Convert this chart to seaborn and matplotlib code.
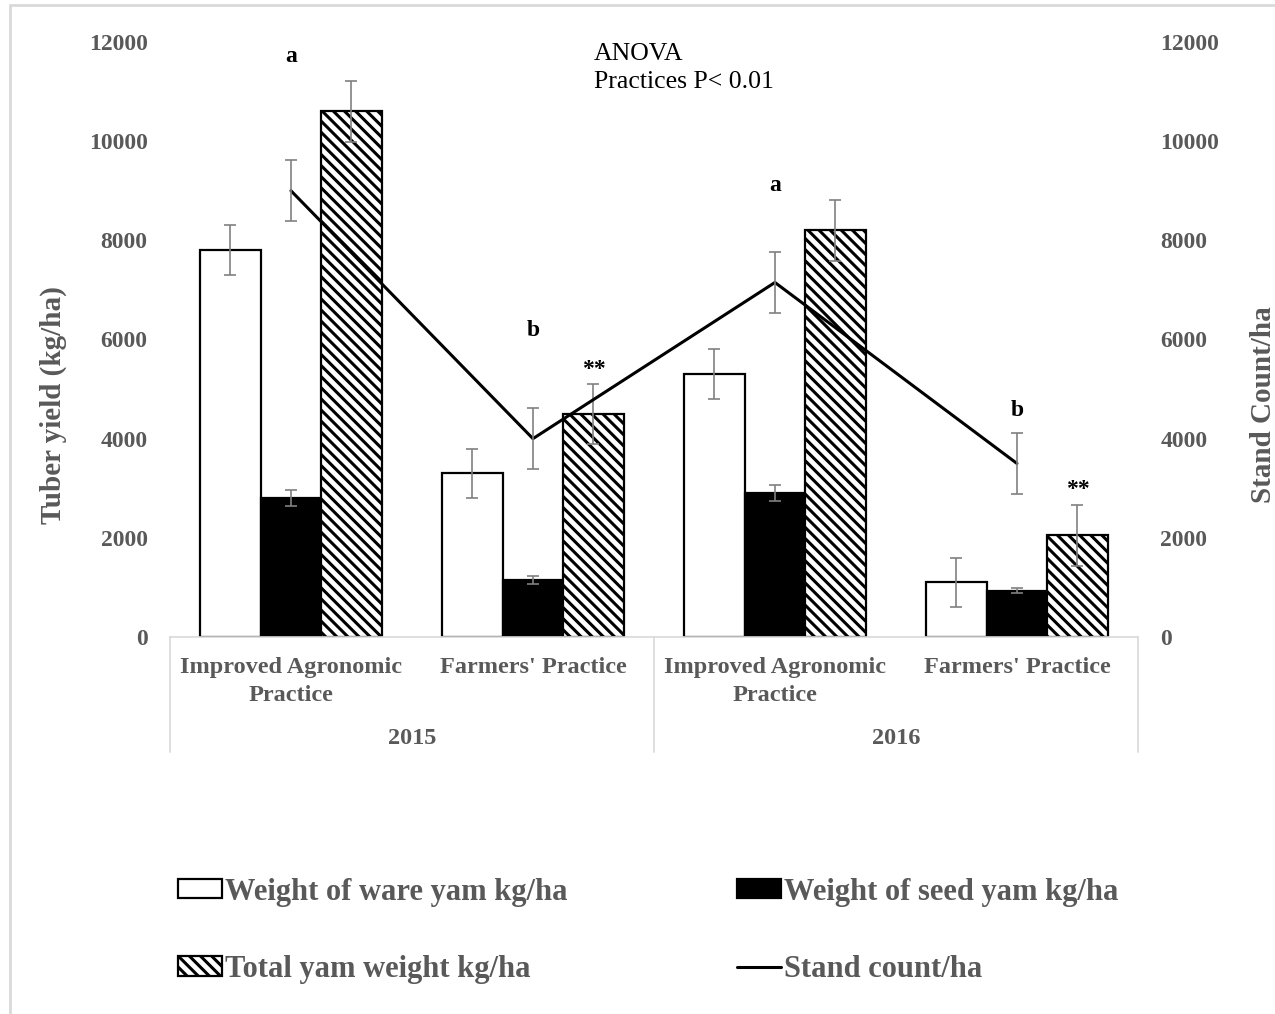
import numpy as np
import pandas as pd
import matplotlib
matplotlib.use("Agg")
import matplotlib.pyplot as plt
import matplotlib.transforms as mtransforms
from matplotlib.patches import Patch
from matplotlib.lines import Line2D
import seaborn as sns

# ---------------- data ----------------
years = ["2015", "2015", "2016", "2016"]
practices = ["Improved Agronomic\nPractice", "Farmers' Practice",
             "Improved Agronomic\nPractice", "Farmers' Practice"]
year_labels = ["2015", "2016"]

ware = [7800, 3300, 5300, 1100]
ware_err = [500, 500, 500, 500]
seed = [2800, 1150, 2900, 930]
seed_err = [160, 80, 160, 50]
total = [10600, 4500, 8200, 2050]
total_err = [620, 600, 610, 620]
stand = [9000, 4000, 7150, 3500]
stand_err = [620, 620, 620, 620]

series_names = ["Weight of ware yam kg/ha", "Weight of seed yam kg/ha",
                "Total yam weight kg/ha"]
line_name = "Stand count/ha"

letters = ["a", "b", "a", "b"]
letter_y = [11700, 6190, 9100, 4560]
star_groups = [1, 3]
star_y = [5400, 2980]

# ---------------- style ----------------
sns.set_theme(style="white")
plt.rcParams["font.family"] = ["Liberation Serif", "DejaVu Serif"]
plt.rcParams["hatch.linewidth"] = 2.2
plt.rcParams["hatch.color"] = "black"
GRAY_TXT = "#595959"
GRAY_LINE = "#d9d9d9"
ERR_COL = "#808080"
HATCH = "\\\\\\"

groups = [f"{y}|{p}" for y, p in zip(years, practices)]
df = pd.DataFrame({
    "group": groups * 3,
    "series": sum([[s] * len(groups) for s in series_names], []),
    "value": ware + seed + total,
})

fig = plt.figure(figsize=(12.75, 10.14), dpi=100)
ax = fig.add_axes([0.1333, 0.3718, 0.7592, 0.5868])

sns.barplot(data=df, x="group", y="value", hue="series", order=groups,
            hue_order=series_names, width=0.75, errorbar=None, ax=ax,
            legend=False, saturation=1)

face = ["white", "black", "white"]
hatches = [None, None, HATCH]
errs = [ware_err, seed_err, total_err]
for cont, fc, h, er in zip(ax.containers, face, hatches, errs):
    xs, hs = [], []
    for bar in cont:
        bar.set_facecolor(fc)
        bar.set_edgecolor("black")
        bar.set_linewidth(1.6)
        if h:
            bar.set_hatch(h)
        xs.append(bar.get_x() + bar.get_width() / 2)
        hs.append(bar.get_height())
    ax.errorbar(xs, hs, yerr=er, fmt="none", ecolor=ERR_COL, elinewidth=1.2,
                capsize=4, capthick=1.2, zorder=5)

TICK_FS = 17
ax.set_ylim(0, 12000)
ax.set_xlim(-0.5, 3.5)
ax.set_yticks(np.arange(0, 12001, 2000))
ax.set_xticks([])
ax.set_xlabel("")
ax.set_ylabel("Tuber yield (kg/ha)", fontsize=21, fontweight="bold",
              color=GRAY_TXT)
ax.yaxis.set_label_coords(-0.106, 0.39)
ax.tick_params(axis="y", length=0, pad=16, labelsize=TICK_FS,
               labelcolor=GRAY_TXT)
for lab in ax.get_yticklabels():
    lab.set_fontweight("bold")
for s in ["left", "right", "top"]:
    ax.spines[s].set_visible(False)
ax.spines["bottom"].set_color(GRAY_LINE)
ax.spines["bottom"].set_linewidth(1.2)

# secondary axis: stand count
ax2 = ax.twinx()
xpos = np.arange(len(groups))
sns.lineplot(x=xpos, y=stand, ax=ax2, color="black", linewidth=2.2,
             sort=False)
ax2.errorbar(xpos, stand, yerr=stand_err, fmt="none", ecolor=ERR_COL,
             elinewidth=1.2, capsize=4, capthick=1.2, zorder=5)
ax2.set_ylim(0, 12000)
ax2.set_xlim(-0.5, 3.5)
ax2.set_yticks(np.arange(0, 12001, 2000))
ax2.set_ylabel("Stand Count/ha", fontsize=21, fontweight="bold",
               color=GRAY_TXT)
ax2.yaxis.set_label_coords(1.1155, 0.39)
ax2.tick_params(axis="y", length=0, pad=16, labelsize=TICK_FS,
                labelcolor=GRAY_TXT)
for lab in ax2.get_yticklabels():
    lab.set_fontweight("bold")
for s in ax2.spines.values():
    s.set_visible(False)

# annotations
for i, (t, yv) in enumerate(zip(letters, letter_y)):
    ax2.text(i, yv, t, ha="center", va="center", fontsize=17,
             fontweight="bold", color="black")
total_cont = ax.containers[2]
for g, yv in zip(star_groups, star_y):
    b = total_cont[g]
    ax.text(b.get_x() + b.get_width() / 2, yv, "**", ha="center",
            va="center", fontsize=17, fontweight="bold", color="black")

ax.text(0.438, 0.999, "ANOVA\nPractices P< 0.01", transform=ax.transAxes,
        ha="left", va="top", fontsize=18.5, color="black", linespacing=1.35)

# multi-level category axis
trans = mtransforms.blended_transform_factory(ax.transData, ax.transAxes)
for i, p in enumerate(practices):
    ax.text(i, -0.033, p, transform=trans, ha="center", va="top",
            fontsize=17.5, fontweight="bold", color=GRAY_TXT,
            linespacing=1.45)
for j, yl in enumerate(year_labels):
    ax.text(0.5 + 2 * j, -0.17, yl, transform=trans, ha="center",
            va="center", fontsize=17.5, fontweight="bold", color=GRAY_TXT)
for xv in [-0.5, 1.5, 3.5]:
    ax.plot([xv, xv], [0, -0.193], transform=trans, color=GRAY_LINE,
            linewidth=1.2, clip_on=False)

# legend
handles = [
    Patch(facecolor="white", edgecolor="black", linewidth=1.6),
    Patch(facecolor="white", edgecolor="black", linewidth=1.6, hatch=HATCH),
    Patch(facecolor="black", edgecolor="black", linewidth=1.6),
    Line2D([], [], color="black", linewidth=2.2),
]
labels = [series_names[0], series_names[2], series_names[1], line_name]
leg = fig.legend(handles, labels, ncol=2, loc="upper left",
                 bbox_to_anchor=(0.118, 0.1617), frameon=False,
                 prop={"family": "Liberation Serif", "weight": "bold",
                       "size": 22},
                 labelcolor=GRAY_TXT, handlelength=1.44, handleheight=0.6,
                 handletextpad=0.1, columnspacing=5.55, labelspacing=1.58)

# outer frame (left and top edges)
fig.add_artist(Line2D([10 / 1275, 10 / 1275], [0, 1 - 5 / 1014],
                      transform=fig.transFigure, color=GRAY_LINE, lw=2))
fig.add_artist(Line2D([10 / 1275, 1], [1 - 5 / 1014, 1 - 5 / 1014],
                      transform=fig.transFigure, color=GRAY_LINE, lw=2))

fig.savefig("out.png", dpi=100, facecolor="white")
